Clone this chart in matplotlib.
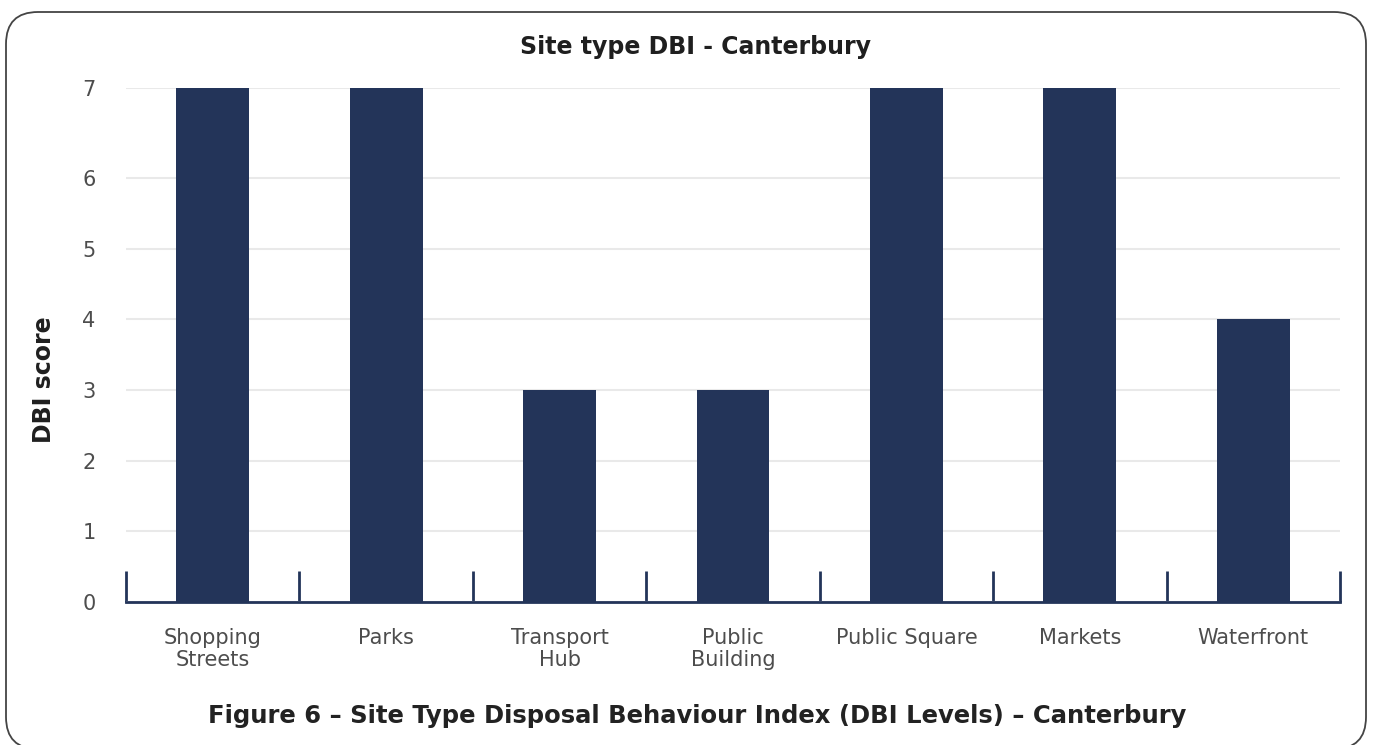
import numpy as np
import matplotlib
matplotlib.use("Agg")
import matplotlib.pyplot as plt
from matplotlib.patches import FancyBboxPatch
from matplotlib.transforms import IdentityTransform

# data
categories = ["Shopping\nStreets", "Parks", "Transport\nHub", "Public\nBuilding",
              "Public Square", "Markets", "Waterfront"]
dbi_scores = [7, 7, 3, 3, 7, 7, 4]
y_ticks    = [0, 1, 2, 3, 4, 5, 6, 7]

title   = "Site type DBI - Canterbury"
ylabel  = "DBI score"
caption = "Figure 6 \u2013 Site Type Disposal Behaviour Index (DBI Levels) \u2013 Canterbury"

navy = "#233459"
grid = "#e9e9e9"
text_grey = "#4d4d4d"

plt.rcParams['font.family'] = ['DejaVu Sans']

# the original chart stretches the 6..7 band a bit, mimic it with a piecewise scale
k = 1.274
def fwd(y):
  y = np.asarray(y, dtype=float)
  return np.where(y <= 6, y, 6 + (y - 6) * k)
def inv(z):
  z = np.asarray(z, dtype=float)
  return np.where(z <= 6, z, 6 + (z - 6) / k)

fig = plt.figure(figsize=(13.73, 7.45), dpi=100)
ax = fig.add_axes([126 / 1373, 143 / 745, 1214 / 1373, 514 / 745])

x = np.arange(len(categories))
ax.bar(x, dbi_scores, width=0.42, color=navy, zorder=3)

ax.set_yscale('function', functions=(fwd, inv))
ax.set_ylim(0, 7)
ax.set_xlim(-0.5, len(categories) - 0.5)
ax.set_yticks(y_ticks)
ax.set_yticklabels([str(t) for t in y_ticks])
ax.set_xticks(x)
ax.set_xticklabels(categories)
ax.set_xticks(np.arange(len(categories) + 1) - 0.5, minor=True)

ax.grid(axis='y', color=grid, linewidth=1.5, zorder=0)
for s in ['top', 'left', 'right']:
  ax.spines[s].set_visible(False)
ax.spines['bottom'].set_color(navy)
ax.spines['bottom'].set_linewidth(2)
ax.spines['bottom'].set_zorder(2)

ax.tick_params(axis='y', length=0, pad=22, labelsize=15, labelcolor=text_grey)
ax.tick_params(axis='x', which='major', length=0, pad=19, labelsize=15, labelcolor=text_grey)
ax.tick_params(axis='x', which='minor', direction='in', length=22, width=2, color=navy)
for lbl in ax.get_xticklabels():
  lbl.set_linespacing(1.1)

fig.text(696 / 1373, 1 - 47 / 745, title, ha='center', va='center',
         fontsize=17, fontweight='semibold', color='#1f1f1f')
fig.text(44 / 1373, 1 - 380 / 745, ylabel, ha='center', va='center', rotation=90,
         fontsize=17, fontweight='bold', color='#1f1f1f')
fig.text(697 / 1373, 1 - 716 / 745, caption, ha='center', va='center',
         fontsize=17.5, fontweight='bold', color='#222222')

# rounded frame around everything (pixel coordinates)
frame = FancyBboxPatch((6, -4), 1360, 737, boxstyle="round,pad=0,rounding_size=32",
                       transform=IdentityTransform(), fill=False,
                       edgecolor='#444444', linewidth=1.3)
fig.patches.append(frame)

fig.savefig("out.png", dpi=100)
